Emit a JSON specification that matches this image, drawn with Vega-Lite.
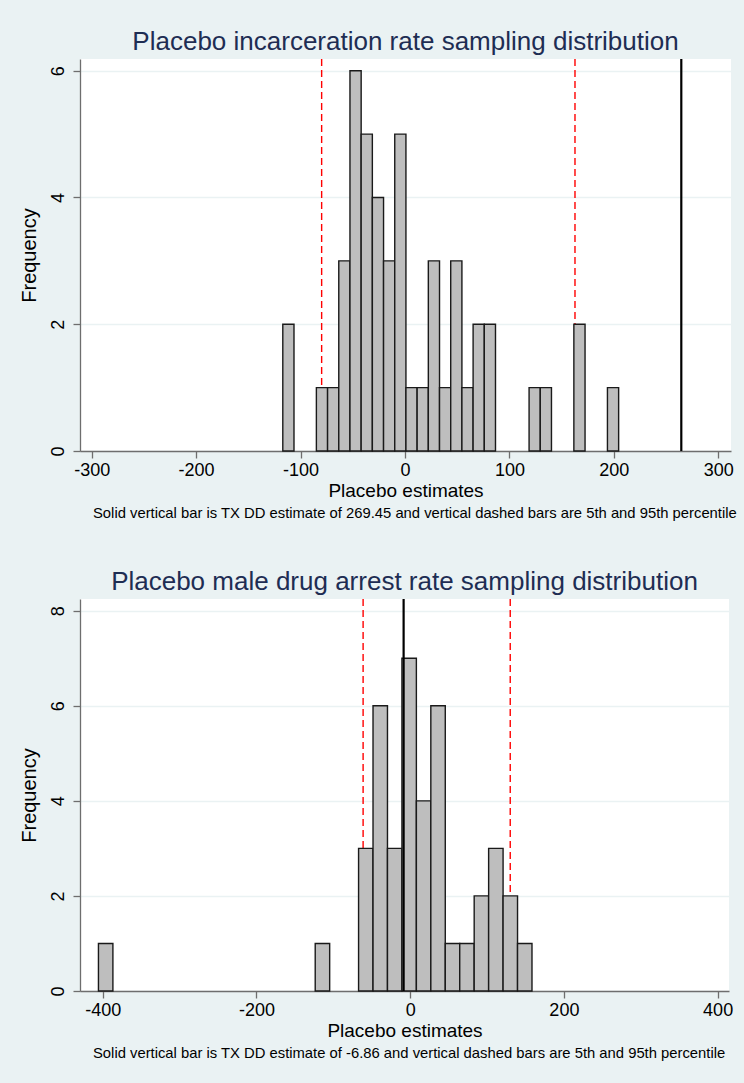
{
  "$schema": "https://vega.github.io/schema/vega-lite/v6.json",
  "background": "#eaf2f3",
  "padding": {"left": 19, "top": 28, "right": 14, "bottom": 24},
  "datasets": {
    "bars1": [
      {"start": -117.0, "end": -106.28, "count": 2},
      {"start": -84.84, "end": -74.12, "count": 1},
      {"start": -74.12, "end": -63.40, "count": 1},
      {"start": -63.40, "end": -52.68, "count": 3},
      {"start": -52.68, "end": -41.96, "count": 6},
      {"start": -41.96, "end": -31.24, "count": 5},
      {"start": -31.24, "end": -20.52, "count": 4},
      {"start": -20.52, "end": -9.80, "count": 3},
      {"start": -9.80, "end": 0.92, "count": 5},
      {"start": 0.92, "end": 11.64, "count": 1},
      {"start": 11.64, "end": 22.36, "count": 1},
      {"start": 22.36, "end": 33.08, "count": 3},
      {"start": 33.08, "end": 43.80, "count": 1},
      {"start": 43.80, "end": 54.52, "count": 3},
      {"start": 54.52, "end": 65.24, "count": 1},
      {"start": 65.24, "end": 75.96, "count": 2},
      {"start": 75.96, "end": 86.68, "count": 2},
      {"start": 118.84, "end": 129.56, "count": 1},
      {"start": 129.56, "end": 140.28, "count": 1},
      {"start": 161.72, "end": 172.44, "count": 2},
      {"start": 193.88, "end": 204.60, "count": 1}
    ],
    "lines1": [
      {"value": -79.8, "kind": "percentile"},
      {"value": 162.8, "kind": "percentile"},
      {"value": 264.6, "kind": "estimate"}
    ],
    "bars2": [
      {"start": -405.5, "end": -386.7, "count": 1},
      {"start": -123.5, "end": -104.7, "count": 1},
      {"start": -67.1, "end": -48.3, "count": 3},
      {"start": -48.3, "end": -29.5, "count": 6},
      {"start": -29.5, "end": -10.7, "count": 3},
      {"start": -10.7, "end": 8.1, "count": 7},
      {"start": 8.1, "end": 26.9, "count": 4},
      {"start": 26.9, "end": 45.7, "count": 6},
      {"start": 45.7, "end": 64.5, "count": 1},
      {"start": 64.5, "end": 83.3, "count": 1},
      {"start": 83.3, "end": 102.1, "count": 2},
      {"start": 102.1, "end": 120.9, "count": 3},
      {"start": 120.9, "end": 139.7, "count": 2},
      {"start": 139.7, "end": 158.5, "count": 1}
    ],
    "lines2": [
      {"value": -61.2, "kind": "percentile"},
      {"value": 130.2, "kind": "percentile"},
      {"value": -8.5, "kind": "estimate"}
    ]
  },
  "spacing": 47,
  "vconcat": [
    {
      "title": {"text": "Solid vertical bar is TX DD estimate of 269.45 and vertical dashed bars are 5th and 95th percentile", "orient": "bottom", "fontSize": 14.8, "color": "#000000", "anchor": "start", "frame": "group", "offset": 6, "dx": 13},
      "vconcat": [
        {
          "title": {"text": "Placebo incarceration rate sampling distribution", "offset": 3},
          "width": 651,
          "height": 392,
          "layer": [
            {
              "data": {"name": "lines1"},
              "transform": [{"filter": "datum.kind === 'percentile'"}],
              "mark": {"type": "rule", "color": "#ff0000", "strokeWidth": 1.4, "strokeDash": [7, 4]},
              "encoding": {"x": {"field": "value", "type": "quantitative"}}
            },
            {
              "data": {"name": "bars1"},
              "mark": {"type": "bar", "fill": "#bebebe", "stroke": "#1a1a1a", "strokeWidth": 1.4},
              "encoding": {
                "x": {"field": "start", "type": "quantitative", "scale": {"domain": [-311.2, 312.2], "nice": false, "zero": false},
                  "axis": {"title": "Placebo estimates", "values": [-300, -200, -100, 0, 100, 200, 300], "grid": false}},
                "x2": {"field": "end"},
                "y": {"field": "count", "type": "quantitative", "scale": {"domain": [0, 6.185], "nice": false},
                  "axis": {"title": "Frequency", "values": [0, 2, 4, 6], "grid": true, "labelAngle": -90, "labelPadding": 6, "titlePadding": 10, "titleFontSize": 20}},
                "y2": {"datum": 0}
              }
            },
            {
              "data": {"name": "lines1"},
              "transform": [{"filter": "datum.kind === 'estimate'"}],
              "mark": {"type": "rule", "color": "#000000", "strokeWidth": 2.2},
              "encoding": {"x": {"field": "value", "type": "quantitative"}}
            }
          ]
        }
      ]
    },
    {
      "title": {"text": "Solid vertical bar is TX DD estimate of -6.86 and vertical dashed bars are 5th and 95th percentile", "orient": "bottom", "fontSize": 14.8, "color": "#000000", "anchor": "start", "frame": "group", "offset": 6, "dx": 13},
      "vconcat": [
        {
          "title": {"text": "Placebo male drug arrest rate sampling distribution", "offset": 3},
          "width": 649,
          "height": 392,
          "layer": [
            {
              "data": {"name": "lines2"},
              "transform": [{"filter": "datum.kind === 'percentile'"}],
              "mark": {"type": "rule", "color": "#ff0000", "strokeWidth": 1.4, "strokeDash": [7, 4]},
              "encoding": {"x": {"field": "value", "type": "quantitative"}}
            },
            {
              "data": {"name": "bars2"},
              "mark": {"type": "bar", "fill": "#bebebe", "stroke": "#1a1a1a", "strokeWidth": 1.4},
              "encoding": {
                "x": {"field": "start", "type": "quantitative", "scale": {"domain": [-429.5, 414.8], "nice": false, "zero": false},
                  "axis": {"title": "Placebo estimates", "values": [-400, -200, 0, 200, 400], "grid": false}},
                "x2": {"field": "end"},
                "y": {"field": "count", "type": "quantitative", "scale": {"domain": [0, 8.246], "nice": false},
                  "axis": {"title": "Frequency", "values": [0, 2, 4, 6, 8], "grid": true, "labelAngle": -90, "labelPadding": 6, "titlePadding": 10, "titleFontSize": 20}},
                "y2": {"datum": 0}
              }
            },
            {
              "data": {"name": "lines2"},
              "transform": [{"filter": "datum.kind === 'estimate'"}],
              "mark": {"type": "rule", "color": "#000000", "strokeWidth": 2.2},
              "encoding": {"x": {"field": "value", "type": "quantitative"}}
            }
          ]
        }
      ]
    }
  ],
  "config": {
    "font": "Liberation Sans",
    "view": {"stroke": null, "fill": "#ffffff"},
    "title": {"fontSize": 26, "fontWeight": "normal", "color": "#1e2d53"},
    "axis": {
      "domainColor": "#6e6e6e", "domainWidth": 1.3,
      "tickColor": "#6e6e6e", "tickWidth": 1.3, "tickSize": 7,
      "labelColor": "#000000", "labelFontSize": 18, "labelPadding": 3,
      "labelExpr": "replace(datum.label, '\u2212', '-')",
      "titleColor": "#000000", "titleFontSize": 19, "titleFontWeight": "normal", "titlePadding": 2,
      "gridColor": "#eaf2f3", "gridWidth": 1.3, "labelFlush": false
    }
  }
}
